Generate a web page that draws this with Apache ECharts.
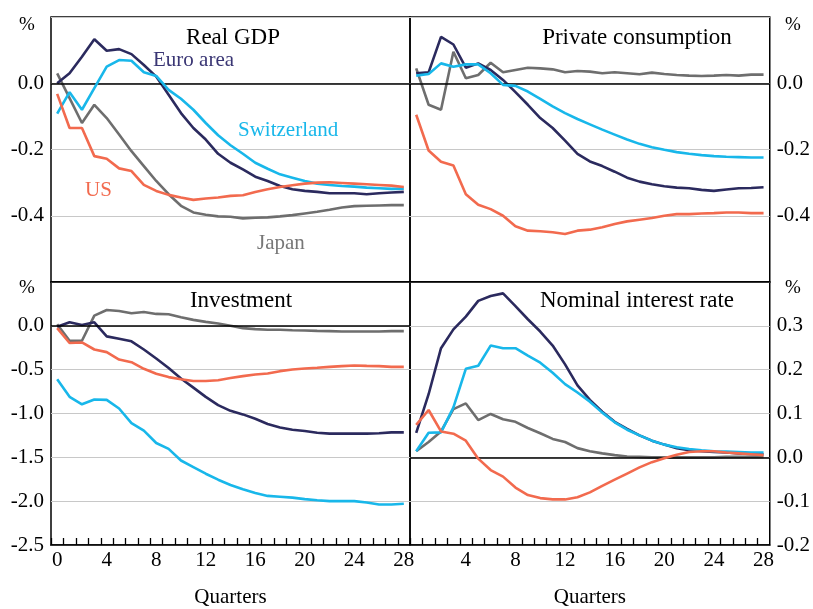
<!DOCTYPE html>
<html>
<head>
<meta charset="utf-8">
<script src="https://cdn.jsdelivr.net/npm/echarts@6/dist/echarts.min.js"></script>
<style>
  html, body { margin: 0; padding: 0; background: #fff; }
  #chart { width: 813px; height: 609px; }
</style>
</head>
<body>
<div id="chart"></div>
<script>
// quarters after the shock
const quarters = ['0','1','2','3','4','5','6','7','8','9','10','11','12','13','14',
  '15','16','17','18','19','20','21','22','23','24','25','26','27','28']

// Real GDP
const gdpEuro = [0.0, 0.03, 0.08, 0.133, 0.098, 0.103, 0.088, 0.055, 0.02, -0.035, -0.09, -0.135, -0.17, -0.213, -0.24,
  -0.26, -0.282, -0.295, -0.31, -0.32, -0.325, -0.328, -0.332, -0.332, -0.332, -0.335, -0.332, -0.33, -0.328]
const gdpSwiss = [-0.092, -0.027, -0.08, -0.015, 0.05, 0.07, 0.068, 0.033, 0.022, -0.02, -0.047, -0.08, -0.12, -0.157, -0.187,
  -0.213, -0.24, -0.258, -0.275, -0.285, -0.295, -0.303, -0.307, -0.31, -0.312, -0.315, -0.317, -0.319, -0.318]
const gdpUS = [-0.032, -0.135, -0.135, -0.22, -0.228, -0.257, -0.265, -0.307, -0.325, -0.337, -0.345, -0.352, -0.348, -0.345, -0.34,
  -0.338, -0.328, -0.32, -0.313, -0.308, -0.303, -0.3, -0.299, -0.301, -0.303, -0.305, -0.307, -0.309, -0.313]
const gdpJapan = [0.03, -0.045, -0.12, -0.065, -0.105, -0.155, -0.205, -0.25, -0.295, -0.335, -0.37, -0.39, -0.397, -0.402, -0.403,
  -0.408, -0.406, -0.405, -0.402, -0.398, -0.393, -0.388, -0.382, -0.375, -0.371, -0.37, -0.369, -0.368, -0.368]

// Private consumption
const consEuro = [0.03, 0.033, 0.14, 0.117, 0.047, 0.06, 0.04, 0.01, -0.027, -0.065, -0.105, -0.135, -0.173, -0.213, -0.236,
  -0.25, -0.267, -0.285, -0.297, -0.305, -0.311, -0.315, -0.317, -0.322, -0.325, -0.321, -0.317, -0.316, -0.314]
const consSwiss = [0.023, 0.028, 0.06, 0.05, 0.057, 0.057, 0.03, -0.005, -0.008, -0.025, -0.047, -0.07, -0.09, -0.108, -0.124,
  -0.14, -0.155, -0.17, -0.183, -0.193, -0.201, -0.208, -0.213, -0.217, -0.22, -0.222, -0.223, -0.224, -0.224]
const consUS = [-0.095, -0.203, -0.237, -0.248, -0.335, -0.367, -0.38, -0.4, -0.432, -0.445, -0.447, -0.45, -0.455, -0.445, -0.442,
  -0.435, -0.425, -0.417, -0.412, -0.407, -0.4, -0.395, -0.395, -0.393, -0.392, -0.39, -0.39, -0.392, -0.392]
const consJapan = [0.045, -0.065, -0.08, 0.095, 0.015, 0.025, 0.062, 0.033, 0.04, 0.047, 0.045, 0.042, 0.033, 0.037, 0.035,
  0.03, 0.033, 0.03, 0.027, 0.032, 0.028, 0.025, 0.023, 0.022, 0.023, 0.025, 0.023, 0.026, 0.026]

// Investment
const invEuro = [-0.01, 0.04, 0.01, 0.04, -0.12, -0.147, -0.177, -0.27, -0.373, -0.48, -0.6, -0.705, -0.81, -0.905, -0.97,
  -1.01, -1.06, -1.12, -1.16, -1.185, -1.2, -1.22, -1.23, -1.23, -1.23, -1.23, -1.225, -1.215, -1.215]
const invSwiss = [-0.61, -0.81, -0.895, -0.84, -0.845, -0.943, -1.11, -1.196, -1.336, -1.404, -1.536, -1.611, -1.687, -1.755, -1.815,
  -1.864, -1.906, -1.94, -1.95, -1.96, -1.977, -1.989, -2.0, -2.0, -2.0, -2.015, -2.038, -2.038, -2.03]
const invUS = [-0.026, -0.196, -0.19, -0.27, -0.3, -0.385, -0.415, -0.49, -0.547, -0.585, -0.61, -0.63, -0.63, -0.62, -0.596,
  -0.574, -0.555, -0.543, -0.517, -0.498, -0.487, -0.479, -0.468, -0.46, -0.453, -0.457, -0.46, -0.468, -0.468]
const invJapan = [0.019, -0.17, -0.17, 0.117, 0.181, 0.17, 0.143, 0.158, 0.136, 0.132, 0.098, 0.068, 0.045, 0.026, 0.0,
  -0.026, -0.038, -0.045, -0.045, -0.05, -0.053, -0.057, -0.06, -0.064, -0.064, -0.064, -0.064, -0.06, -0.06]

// Nominal interest rate
const rateEuro = [0.056, 0.144, 0.249, 0.292, 0.321, 0.357, 0.368, 0.374, 0.345, 0.315, 0.287, 0.255, 0.212, 0.164, 0.131,
  0.104, 0.081, 0.065, 0.05, 0.038, 0.029, 0.021, 0.016, 0.014, 0.012, 0.011, 0.009, 0.008, 0.007]
const rateSwiss = [0.014, 0.056, 0.057, 0.114, 0.202, 0.209, 0.255, 0.249, 0.249, 0.232, 0.216, 0.193, 0.167, 0.148, 0.127,
  0.102, 0.08, 0.063, 0.05, 0.038, 0.029, 0.023, 0.019, 0.016, 0.014, 0.013, 0.012, 0.011, 0.011]
const rateUS = [0.074, 0.108, 0.059, 0.054, 0.038, -0.003, -0.029, -0.044, -0.069, -0.086, -0.093, -0.096, -0.096, -0.091, -0.08,
  -0.065, -0.051, -0.037, -0.023, -0.011, -0.002, 0.006, 0.012, 0.014, 0.014, 0.011, 0.009, 0.007, 0.005]
const rateJapan = [0.014, 0.035, 0.059, 0.11, 0.123, 0.085, 0.099, 0.087, 0.081, 0.067, 0.055, 0.042, 0.035, 0.021, 0.014,
  0.009, 0.005, 0.002, 0.001, 0.0, 0.0, 0.0, 0.0, 0.0, 0.0, 0.001, 0.001, 0.001, 0.001]

const COLORS = { euro: '#2b2a5e', swiss: '#18b7ea', us: '#f26a4e', japan: '#6e6e6e' }
const FONT = '"Liberation Serif", "Times New Roman", serif'

// panel layout: [left, top, width, height], y range, label side
const panels = [
  { box: [51, 17, 359, 265], min: -0.6, max: 0.2, step: 0.2, side: 'left', bottom: false, hideMin: true, hideFirstX: false,
    data: { japan: gdpJapan, euro: gdpEuro, swiss: gdpSwiss, us: gdpUS } },
  { box: [410, 17, 360, 265], min: -0.6, max: 0.2, step: 0.2, side: 'right', bottom: false, hideMin: true, hideFirstX: false,
    data: { japan: consJapan, euro: consEuro, swiss: consSwiss, us: consUS } },
  { box: [51, 282, 359, 265], min: -2.5, max: 0.5, step: 0.5, side: 'left', bottom: true, hideMin: false, hideFirstX: false,
    data: { japan: invJapan, euro: invEuro, swiss: invSwiss, us: invUS } },
  { box: [410, 282, 360, 265], min: -0.2, max: 0.4, step: 0.1, side: 'right', bottom: true, hideMin: false, hideFirstX: true,
    data: { japan: rateJapan, euro: rateEuro, swiss: rateSwiss, us: rateUS } },
]
const TICK_LEN = 7

const grid = panels.map((p) => ({
  left: p.box[0], top: p.box[1], width: p.box[2], height: p.box[3],
  show: true, borderColor: '#000', borderWidth: 1.5,
}))

const xAxis = panels.map((p, i) => {
  const ax = {
    type: 'category',
    gridIndex: i,
    data: quarters,
    boundaryGap: true,
    axisLine: { show: true, onZero: false, lineStyle: { color: '#000', width: 1.5 } },
    axisTick: { show: false },
    axisLabel: { show: false },
  }
  if (p.bottom) {
    // every 4th quarter; the right panel leaves out its 0 (it would clash with the left 28)
    ax.axisLabel = {
      show: true, margin: 5, fontFamily: FONT, fontSize: 21, color: '#000',
      interval: (idx) => idx % 4 === 0 && !(p.hideFirstX && idx === 0),
    }
    ax.name = 'Quarters'
    ax.nameLocation = 'middle'
    ax.nameGap = 42
    ax.nameTextStyle = { fontFamily: FONT, fontSize: 21, color: '#000' }
  }
  return ax
})

const yAxis = panels.map((p, i) => ({
  type: 'value',
  gridIndex: i,
  position: p.side,
  min: p.min,
  max: p.max,
  interval: p.step,
  axisLine: { show: false },
  axisTick: { show: false },
  axisLabel: {
    fontFamily: FONT, fontSize: 21, color: '#000', margin: 7,
    formatter: (v) => {
      if (Math.abs(v - p.max) < 1e-9) return ''
      if (p.hideMin && Math.abs(v - p.min) < 1e-9) return ''
      return v.toFixed(1)
    },
  },
  splitLine: { show: true, lineStyle: { color: '#c8c8c8', width: 1.2 } },
}))

const order = ['japan', 'euro', 'swiss', 'us']
const series = []
panels.forEach((p, i) => {
  order.forEach((key, k) => {
    series.push({
      type: 'line',
      xAxisIndex: i,
      yAxisIndex: i,
      data: p.data[key],
      symbol: 'none',
      lineStyle: { color: COLORS[key], width: 2.6 },
      z: 3 + k,
      markLine: k === 0 ? {
        silent: true,
        symbol: 'none',
        label: { show: false },
        lineStyle: { color: '#000', width: 1.5, type: 'solid' },
        data: [{ yAxis: 0 }],
      } : undefined,
    })
  })
  if (p.bottom) {
    // quarter tick marks pointing up from the bottom edge, at the left edge of each quarter's band
    series.push({
      type: 'custom',
      xAxisIndex: i,
      yAxisIndex: i,
      silent: true,
      z: 30,
      data: quarters.map((q) => [q]),
      encode: { x: 0 },
      renderItem: (params, api) => {
        const base = api.coord([api.value(0), p.min])
        const half = api.size([1, 0])[0] / 2
        const x = Math.round(base[0] - half) + 0.5
        return {
          type: 'line',
          shape: { x1: x, y1: base[1], x2: x, y2: base[1] - TICK_LEN },
          style: { stroke: '#000', lineWidth: 1.3 },
        }
      },
    })
  }
})

function txt(text, x, y, size, color, align) {
  return {
    type: 'text', x, y, z: 20,
    style: { text, fill: color, font: `${size}px ${FONT}`, align: align || 'center', verticalAlign: 'middle' },
  }
}

const graphic = [
  txt('Real GDP', 233, 38, 23, '#000'),
  txt('Private consumption', 637, 38, 23, '#000'),
  txt('Investment', 241, 301, 23, '#000'),
  txt('Nominal interest rate', 637, 301, 23, '#000'),
  txt('%', 27, 25, 19, '#000'),
  txt('%', 793, 25, 19, '#000'),
  txt('%', 27, 288, 19, '#000'),
  txt('%', 793, 288, 19, '#000'),
  txt('Euro area', 153, 60, 21, '#3a3674', 'left'),
  txt('Switzerland', 238, 130, 21, COLORS.swiss, 'left'),
  txt('US', 85, 190, 21, COLORS.us, 'left'),
  txt('Japan', 257, 243, 21, '#777', 'left'),
]

const chart = echarts.init(document.getElementById('chart'))
chart.setOption({
  animation: false,
  grid,
  xAxis,
  yAxis,
  series,
  graphic,
})
</script>
</body>
</html>
